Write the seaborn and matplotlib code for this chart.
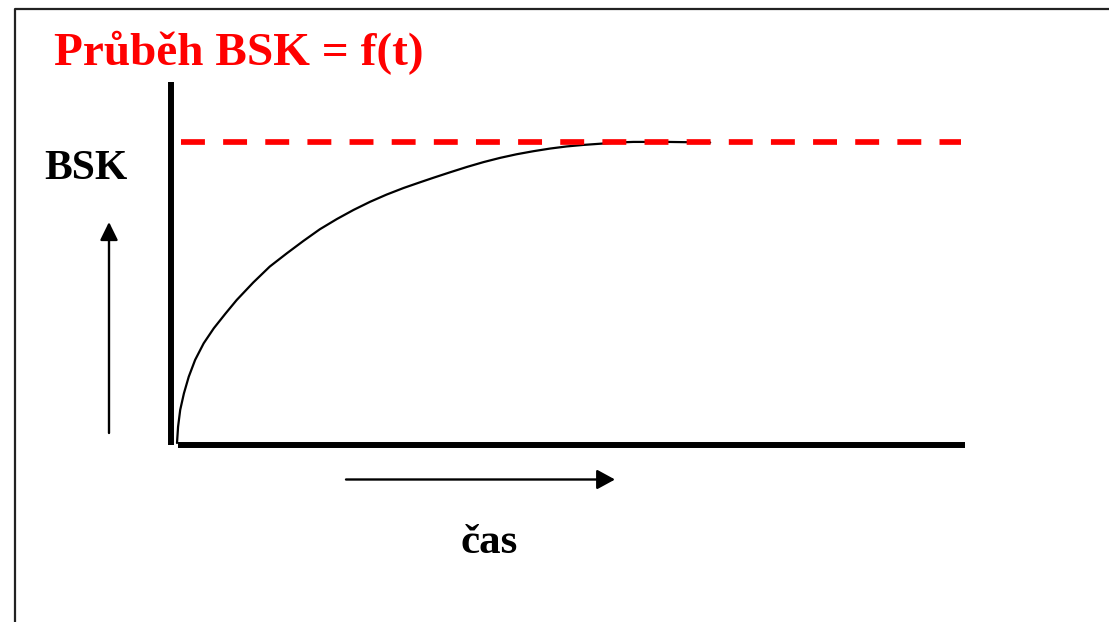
import matplotlib
matplotlib.use("Agg")
import matplotlib.pyplot as plt
from matplotlib.lines import Line2D
import pandas as pd
import seaborn as sns

# values (time in arbitrary units, BSK as % of the limit)
cas = [0, 0.2, 0.6, 1.3, 2.2, 3.4, 5.0, 6.9, 9.1, 11.2, 14.3, 17.4, 20.6,
       23.7, 26.8, 30.0, 33.1, 36.2, 39.3, 42.5, 45.6, 48.1, 51.2, 54.4,
       57.5, 60.6, 63.7, 66.8, 70.0, 73.1, 76.2, 79.4, 82.5, 85.6, 91.9, 100]
bsk = [0, 5.4, 11.0, 16.5, 22.0, 27.6, 33.1, 38.1, 43.0, 47.5, 53.3, 58.6,
       63.0, 67.1, 71.0, 74.4, 77.4, 80.1, 82.5, 84.7, 86.6, 88.1, 89.9,
       91.7, 93.3, 94.7, 95.9, 96.9, 97.8, 98.5, 99.0, 99.4, 99.8, 100,
       100, 99.8]
bsk_limit = 100

title = 'Průběh BSK = f(t)'
ylabel = 'BSK'
xlabel = 'čas'

df = pd.DataFrame({'cas': cas, 'BSK': bsk})

sns.set_theme(style='white')
plt.rcParams['font.family'] = ['Liberation Serif', 'DejaVu Serif']

fig = plt.figure(figsize=(11.09, 6.22), dpi=100, facecolor='white')
W, H = 1109, 622
ax = fig.add_axes([170.5 / W, 1 - 444.5 / H, (965 - 170.5) / W, (444.5 - 82) / H])
ax.set_facecolor('none')

sns.lineplot(data=df, x='cas', y='BSK', sort=False, color='black',
             linewidth=1.6, ax=ax)
ax.hlines(bsk_limit, 0.7, 147, color='red', linewidth=4.1,
          linestyles=(0, (4.2, 3.2)), capstyle='butt')

ax.set_xlim(-1.22, 147.8)
ax.set_ylim(-0.5, 119.9)
ax.set_xticks([])
ax.set_yticks([])
ax.set_xlabel('')
ax.set_ylabel('')
for side in ['top', 'right']:
    ax.spines[side].set_visible(False)
for side in ['left', 'bottom']:
    ax.spines[side].set_color('black')
    ax.spines[side].set_linewidth(4.3)
    ax.spines[side].set_capstyle('butt')
ax.spines['bottom'].set_bounds(0.1, 147.8)

# frame around the slide
fig.add_artist(Line2D([15 / W, 15 / W, 1], [0, 1 - 9 / H, 1 - 9 / H],
                      transform=fig.transFigure, color='#222222', linewidth=1.6))

# arrows beside the axes
ax.annotate('', xy=(109, H - 222), xytext=(109, H - 433),
            xycoords='figure pixels', textcoords='figure pixels',
            arrowprops=dict(arrowstyle='-|>,head_length=0.55,head_width=0.27',
                            mutation_scale=20, lw=1.7, color='black',
                            shrinkA=0, shrinkB=0))
ax.annotate('', xy=(615, H - 479.5), xytext=(346, H - 479.5),
            xycoords='figure pixels', textcoords='figure pixels',
            arrowprops=dict(arrowstyle='-|>,head_length=0.55,head_width=0.3',
                            mutation_scale=20, lw=1.7, color='black',
                            shrinkA=0, shrinkB=0))

fig.text(54 / W, 1 - 65 / H, title, color='red', fontsize=34,
         fontweight='bold', ha='left', va='baseline')
fig.text(44 / W, 1 - 179 / H, ylabel, color='black', fontsize=30,
         fontweight='bold', ha='left', va='baseline')
fig.text(461 / W, 1 - 553 / H, xlabel, color='black', fontsize=31,
         fontweight='bold', ha='left', va='baseline')

plt.savefig('out.png', dpi=100, facecolor='white')
